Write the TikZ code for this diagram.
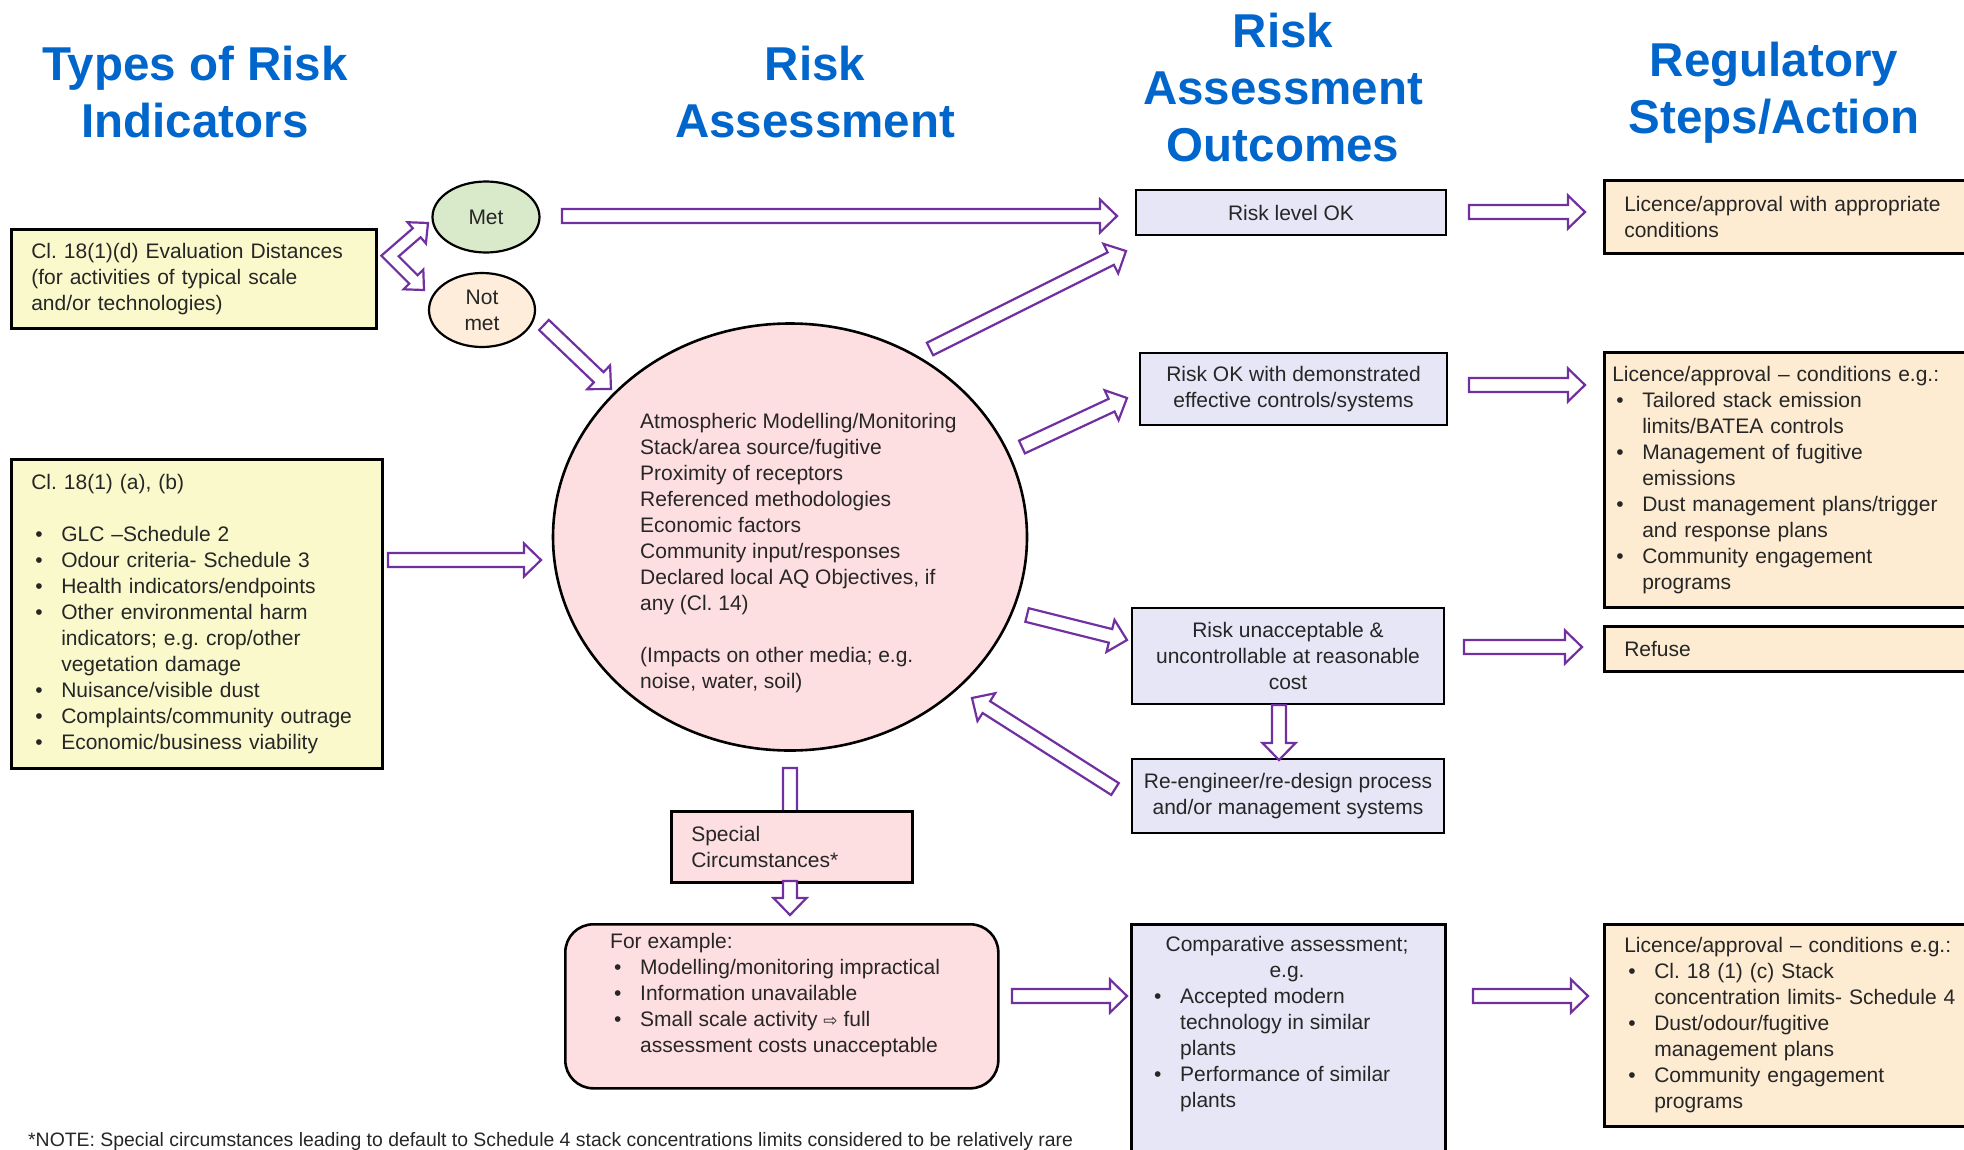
\documentclass[tikz,border=0pt]{standalone}
\usepackage{fontspec}
\setmainfont{Liberation Sans}
\newfontfamily\djv{DejaVu Sans}
\usetikzlibrary{calc,shapes.geometric}
\definecolor{headc}{RGB}{0,102,204}
\definecolor{arrowc}{RGB}{112,48,160}
\definecolor{yellowc}{RGB}{250,249,204}
\definecolor{greenc}{RGB}{217,234,203}
\definecolor{notmetc}{RGB}{253,237,218}
\definecolor{pinkc}{RGB}{254,223,225}
\definecolor{lavc}{RGB}{231,230,246}
\definecolor{peachc}{RGB}{253,235,210}
\definecolor{txtc}{RGB}{38,38,38}
\newcommand{\bodyfont}{\fontsize{21}{26}\selectfont}
\newcommand{\headfont}{\fontsize{47.5}{57}\selectfont\bfseries}
\newcommand{\notefont}{\fontsize{19.4}{22}\selectfont}
\newcommand{\bitem}{\hspace*{4pt}\makebox[26pt][l]{\textbullet}}
\newcommand{\bind}{\hspace*{30pt}}
\newcommand{\blockarr}[2]{%
  \path ($(#2)!17pt!(#1)$) coordinate (bh);
  \draw[barrow] ($(#1)!7pt!90:(#2)$) -- ($(bh)!7pt!-90:(#1)$) -- ($(bh)!16.5pt!-90:(#1)$) -- (#2)
    -- ($(bh)!16.5pt!90:(#1)$) -- ($(bh)!7pt!90:(#1)$) -- ($(#1)!7pt!-90:(#2)$) -- cycle;
}
\begin{document}
\frenchspacing
\begin{tikzpicture}[x=1pt,y=-1pt,
  every node/.style={text=txtc, font=\bodyfont},
  heading/.style={text=headc, font=\headfont, align=center, inner sep=0pt},
  box/.style={draw=black, line width=2.6pt, inner ysep=0pt},
  lbox/.style={box, anchor=north west, align=left},
  cbox/.style={box, align=center, inner xsep=2pt},
  oval/.style={ellipse, draw=black, line width=2.2pt, inner sep=0pt, align=center},
  txt/.style={inner sep=0pt, align=left},
  barrow/.style={draw=arrowc, line width=2.2pt, fill=white, line join=miter}]
\useasboundingbox (0,0) rectangle (1964,1149);
\fill[white] (0,0) rectangle (1964,1149);
\clip (0,0) rectangle (1964,1149);

% headings
\node[heading] (h1) at (195,92) {Types of Risk\\Indicators};
\node[heading] (h2) at (815,92) {Risk\\Assessment};
\node[heading] (h3) at (1283,88) {Risk\\Assessment\\Outcomes};
\node[heading] (h4) at (1774,92.5) {Regulatory\\Steps/Action};

% arrow whose head lies under the special box
\coordinate (cs1) at (790,768);
\coordinate (cs2) at (790,832);
\blockarr{cs1}{cs2}

% left column
\node[lbox, fill=yellowc, inner xsep=20pt, text width=325pt, minimum height=99pt] (dist) at (10,228)
  {Cl. 18(1)(d) Evaluation  Distances\\(for activities of typical scale\\and/or technologies)};
\node[lbox, fill=yellowc, inner xsep=20pt, text width=331pt, minimum height=309pt] (ind) at (10,458)
  {Cl. 18(1) (a), (b)\\[26pt]
   \bitem GLC --Schedule 2\\
   \bitem Odour criteria- Schedule 3\\
   \bitem Health indicators/endpoints\\
   \bitem Other environmental harm\\
   \bind indicators; e.g. crop/other\\
   \bind vegetation damage\\
   \bitem Nuisance/visible dust\\
   \bitem Complaints/community outrage\\
   \bitem Economic/business viability};

% met / not met
\node[oval, fill=greenc, minimum width=107pt, minimum height=71pt] (met) at (486,217) {Met};
\node[oval, fill=notmetc, minimum width=106pt, minimum height=74pt] (notmet) at (482,310) {Not\\met};

% central assessment
\node[oval, fill=pinkc, line width=2.6pt, minimum width=474pt, minimum height=427pt] (assess) at (790,537) {};
\node[txt, anchor=west] (assesstxt) at (640,553)
  {Atmospheric  Modelling/Monitoring\\
   Stack/area source/fugitive\\
   Proximity of receptors\\
   Referenced methodologies\\
   Economic factors\\
   Community input/responses\\
   Declared local AQ Objectives,  if\\
   any (Cl. 14)\\[26pt]
   (Impacts on other media; e.g.\\
   noise, water, soil)};

% special circumstances
\node[lbox, fill=pinkc, inner xsep=20pt, text width=201pt, minimum height=71pt] (special) at (670,810)
  {Special\\Circumstances*};
\node[box, fill=pinkc, rounded corners=28pt, anchor=north west, minimum width=433pt, minimum height=164pt] (forex) at (564,923) {};
\node[txt, anchor=west] (forextxt) at (610,995)
  {For example:\\
   \bitem Modelling/monitoring  impractical\\
   \bitem Information unavailable\\
   \bitem Small scale activity {\djv\fontsize{17}{26}\selectfont ⇨} full\\
   \bind assessment  costs unacceptable};

% outcomes
\node[cbox, fill=lavc, minimum width=310pt, minimum height=45pt] (rlok) at (1291,212.5) {Risk level OK};
\node[cbox, fill=lavc, minimum width=307pt, minimum height=72pt] (rokdem) at (1293.5,389)
  {Risk OK with demonstrated\\effective controls/systems};
\node[cbox, fill=lavc, minimum width=312pt, minimum height=96pt] (runacc) at (1288,656)
  {Risk unacceptable \&\\uncontrollable  at reasonable\\cost};
\node[cbox, fill=lavc, minimum width=312pt, minimum height=74pt] (reeng) at (1288,796)
  {Re-engineer/re-design  process\\and/or management  systems};
\node[box, fill=lavc, anchor=north west, minimum width=314pt, minimum height=240pt] (comp) at (1130,923) {};
\node[txt, align=center] (comphd) at (1287,959) {Comparative  assessment;\\e.g.};
\node[txt, anchor=west] (complst) at (1150,1050)
  {\bitem Accepted modern\\
   \bind technology  in similar\\
   \bind plants\\
   \bitem Performance of similar\\
   \bind plants};

% regulatory steps
\node[lbox, fill=peachc, inner xsep=20pt, text width=345pt, minimum height=73pt] (lic1) at (1603,179)
  {Licence/approval  with appropriate\\conditions};
\node[lbox, fill=peachc, inner xsep=8pt, text width=369pt, minimum height=255pt] (lic2) at (1603,351)
  {Licence/approval  -- conditions e.g.:\\
   \bitem Tailored stack emission\\
   \bind limits/BATEA  controls\\
   \bitem Management  of fugitive\\
   \bind emissions\\
   \bitem Dust management  plans/trigger\\
   \bind and response plans\\
   \bitem Community  engagement\\
   \bind programs};
\node[lbox, fill=peachc, inner xsep=20pt, text width=345pt, minimum height=45pt] (refuse) at (1603,625) {Refuse};
\node[lbox, fill=peachc, inner xsep=20pt, text width=345pt, minimum height=202pt] (lic3) at (1603,923)
  {Licence/approval  -- conditions e.g.:\\
   \bitem Cl. 18 (1) (c) Stack\\
   \bind concentration limits- Schedule 4\\
   \bitem Dust/odour/fugitive\\
   \bind management  plans\\
   \bitem Community  engagement\\
   \bind programs};

% footnote
\node[txt, anchor=west, font=\notefont] (note) at (28,1141)
  {*NOTE: Special circumstances leading  to default  to Schedule 4 stack concentrations  limits considered to be relatively  rare};

% bent double arrow between evaluation distances and met / not met
\draw[barrow] (381.3,255.7) -- (412.8,228.3) -- (407.5,222.2) -- (428,223) -- (425.9,243.4) -- (420.6,237.3)
  -- (398.7,256.3) -- (417.6,275.2) -- (423.3,269.5) -- (424,290) -- (403.5,289.3) -- (409.2,283.6) -- cycle;

% block arrows
\coordinate (m1) at (562,216);   \coordinate (m2) at (1117,216);  \blockarr{m1}{m2}
\coordinate (c1) at (930,349);   \coordinate (c2) at (1126,251);  \blockarr{c1}{c2}
\coordinate (n1) at (544,325);   \coordinate (n2) at (611,389);   \blockarr{n1}{n2}
\coordinate (b1) at (388,560);   \coordinate (b2) at (541,560);   \blockarr{b1}{b2}
\coordinate (r1) at (1469,212);  \coordinate (r2) at (1585,212);  \blockarr{r1}{r2}
\coordinate (d1) at (1022,447);  \coordinate (d2) at (1127,398);  \blockarr{d1}{d2}
\coordinate (e1) at (1469,385);  \coordinate (e2) at (1585,385);  \blockarr{e1}{e2}
\coordinate (u1) at (1027,615);  \coordinate (u2) at (1127,640);  \blockarr{u1}{u2}
\coordinate (f1) at (1464,647);  \coordinate (f2) at (1582,647);  \blockarr{f1}{f2}
\coordinate (g1) at (1279,705);  \coordinate (g2) at (1279,760);  \blockarr{g1}{g2}
\coordinate (k1) at (1115,789);  \coordinate (k2) at (972,698);   \blockarr{k1}{k2}
\coordinate (s1) at (790,881);   \coordinate (s2) at (790,915);   \blockarr{s1}{s2}
\coordinate (x1) at (1012,996);  \coordinate (x2) at (1127,996);  \blockarr{x1}{x2}
\coordinate (y1) at (1473,996);  \coordinate (y2) at (1588,996);  \blockarr{y1}{y2}
\end{tikzpicture}
\end{document}
